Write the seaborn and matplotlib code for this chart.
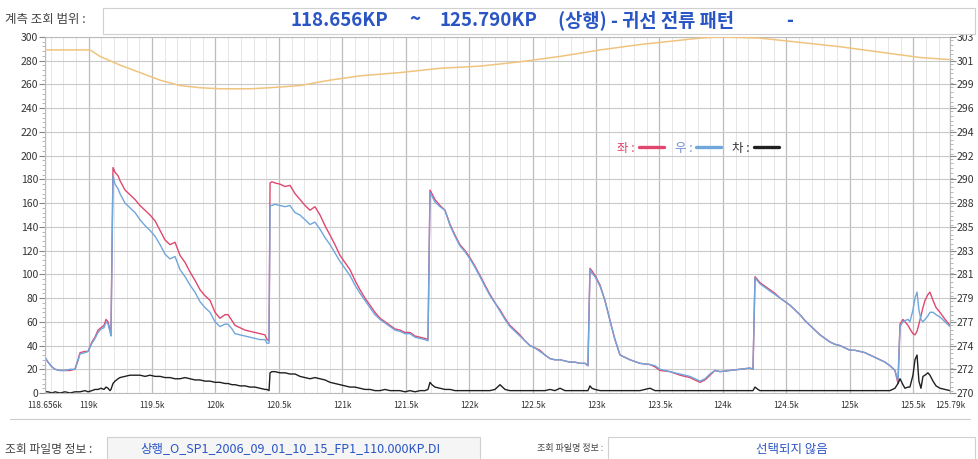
import numpy as np
import pandas as pd
import matplotlib
matplotlib.use("Agg")
import matplotlib.pyplot as plt
from matplotlib.lines import Line2D
from matplotlib.patches import Rectangle
from matplotlib.ticker import MultipleLocator, FixedLocator
import seaborn as sns

# ---------------- data ----------------
km = [118.656, 118.680, 118.711, 118.735, 118.774, 118.814, 118.853, 118.892, 118.916, 118.932,
      118.971, 118.995, 119.026, 119.050, 119.074, 119.098, 119.121, 119.137, 119.153, 119.168,
      119.176, 119.192, 119.208, 119.232, 119.247, 119.287, 119.326, 119.366, 119.405, 119.445,
      119.484, 119.524, 119.563, 119.602, 119.641, 119.681, 119.720, 119.760, 119.799, 119.838,
      119.878, 119.917, 119.957, 119.996, 120.035, 120.075, 120.099, 120.130, 120.154, 120.193,
      120.233, 120.272, 120.311, 120.351, 120.390, 120.406, 120.422, 120.430, 120.445, 120.469,
      120.508, 120.548, 120.587, 120.627, 120.666, 120.706, 120.745, 120.784, 120.824, 120.863,
      120.903, 120.942, 120.981, 121.021, 121.060, 121.099, 121.139, 121.178, 121.218, 121.257,
      121.297, 121.336, 121.376, 121.415, 121.454, 121.494, 121.533, 121.573, 121.612, 121.651,
      121.675, 121.691, 121.706, 121.730, 121.770, 121.809, 121.849, 121.888, 121.927, 121.967,
      122.006, 122.045, 122.085, 122.124, 122.164, 122.203, 122.243, 122.282, 122.321, 122.361,
      122.400, 122.439, 122.479, 122.518, 122.558, 122.597, 122.637, 122.676, 122.716, 122.755,
      122.794, 122.834, 122.873, 122.913, 122.936, 122.952, 122.967, 122.992, 123.031, 123.070,
      123.110, 123.149, 123.189, 123.228, 123.267, 123.346, 123.425, 123.465, 123.504, 123.583,
      123.662, 123.740, 123.780, 123.819, 123.859, 123.898, 123.937, 123.977, 124.056, 124.134,
      124.213, 124.237, 124.253, 124.276, 124.292, 124.331, 124.371, 124.410, 124.450, 124.489,
      124.529, 124.568, 124.607, 124.647, 124.686, 124.725, 124.765, 124.804, 124.844, 124.883,
      124.923, 124.962, 125.002, 125.041, 125.080, 125.120, 125.159, 125.199, 125.238, 125.278,
      125.317, 125.356, 125.380, 125.396, 125.419, 125.435, 125.459, 125.474, 125.498, 125.514,
      125.530, 125.545, 125.561, 125.577, 125.593, 125.616, 125.632, 125.656, 125.680, 125.711,
      125.751, 125.790]

left_rail = [30, 26, 22, 20, 19, 19, 19, 20, 28, 34,
             35, 35, 43, 47, 53, 55, 57, 62, 60, 53,
             49, 190, 186, 183, 179, 171, 167, 163, 158, 154,
             150, 145, 137, 129, 125, 127, 116, 110, 102, 95,
             87, 82, 78, 68, 63, 66, 66, 61, 57, 55,
             53, 52, 51, 50, 49, 45, 44, 177, 178, 177,
             176, 174, 175, 168, 163, 158, 154, 157, 150, 141,
             133, 125, 116, 110, 104, 95, 87, 80, 74, 68,
             63, 60, 57, 54, 53, 51, 51, 48, 47, 46,
             45, 171, 168, 163, 158, 154, 142, 133, 125, 120,
             114, 107, 99, 91, 83, 76, 70, 63, 57, 53,
             49, 44, 40, 38, 36, 32, 29, 28, 28, 27,
             26, 26, 25, 25, 23, 105, 103, 99, 91, 78,
             61, 45, 32, 30, 28, 25, 24, 22, 19, 18,
             15, 13, 11, 9, 11, 15, 19, 18, 19, 20,
             21, 20, 98, 95, 93, 90, 87, 84, 80, 77,
             74, 70, 66, 61, 57, 53, 49, 46, 43, 41,
             40, 38, 36, 36, 35, 34, 32, 30, 28, 26,
             23, 19, 8, 58, 62, 60, 57, 54, 50, 49,
             52, 58, 65, 72, 78, 83, 85, 78, 72, 68,
             62, 57]

right_rail = [30, 26, 22, 20, 19, 19, 20, 20, 27, 33,
              34, 35, 42, 46, 51, 54, 55, 60, 58, 52,
              48, 183, 176, 172, 168, 160, 156, 152, 146, 141,
              137, 132, 125, 117, 113, 115, 104, 98, 91, 85,
              77, 72, 68, 60, 56, 58, 58, 54, 50, 49,
              48, 47, 46, 45, 45, 42, 42, 158, 158, 159,
              158, 157, 158, 152, 150, 146, 142, 144, 138, 131,
              125, 118, 111, 105, 99, 91, 84, 78, 72, 66,
              62, 59, 56, 53, 52, 50, 50, 47, 46, 45,
              44, 169, 166, 161, 157, 154, 141, 132, 124, 119,
              113, 106, 98, 90, 82, 76, 69, 62, 56, 52,
              48, 44, 40, 38, 35, 32, 29, 28, 28, 27,
              26, 26, 25, 25, 23, 104, 101, 98, 90, 78,
              61, 45, 32, 30, 28, 25, 24, 23, 20, 18,
              16, 14, 12, 10, 12, 16, 19, 18, 19, 20,
              21, 20, 97, 94, 92, 89, 86, 83, 80, 77,
              74, 70, 66, 61, 57, 53, 49, 46, 43, 41,
              40, 38, 36, 36, 35, 34, 32, 30, 28, 26,
              23, 19, 10, 56, 60, 61, 62, 60, 70, 80,
              85, 70, 62, 60, 62, 65, 68, 68, 66, 64,
              60, 56]

difference = [1, 1, 0, 1, 0, 1, 0, 1, 1, 1,
              2, 1, 2, 3, 3, 4, 3, 5, 4, 2,
              3, 8, 10, 12, 13, 14, 15, 15, 15, 14,
              15, 14, 14, 13, 13, 12, 12, 13, 12, 11,
              11, 10, 10, 9, 9, 8, 8, 7, 7, 6,
              6, 5, 5, 4, 3, 3, 2, 17, 18, 18,
              17, 17, 16, 16, 14, 13, 12, 13, 12, 11,
              9, 8, 7, 6, 5, 5, 4, 3, 3, 2,
              2, 3, 2, 2, 2, 1, 2, 1, 2, 2,
              3, 9, 7, 5, 4, 3, 3, 2, 2, 2,
              2, 2, 2, 2, 2, 3, 7, 3, 2, 2,
              2, 2, 2, 2, 2, 2, 3, 2, 4, 2,
              2, 2, 2, 2, 2, 6, 4, 3, 2, 2,
              2, 2, 2, 2, 2, 2, 4, 2, 2, 2,
              2, 2, 2, 2, 2, 2, 2, 2, 2, 2,
              2, 2, 5, 3, 2, 2, 2, 2, 2, 2,
              2, 2, 2, 2, 2, 2, 2, 2, 2, 2,
              2, 2, 2, 2, 2, 2, 2, 2, 2, 2,
              2, 4, 8, 12, 7, 4, 5, 5, 15, 28,
              32, 10, 4, 14, 15, 17, 15, 10, 6, 4,
              3, 2]

profile_km = [118.656, 119.011, 119.090, 119.247, 119.405, 119.563, 119.720, 119.878, 120.035,
              120.272, 120.430, 120.666, 120.903, 121.139, 121.454, 121.770, 122.085, 122.400,
              122.716, 123.031, 123.346, 123.662, 123.819, 123.977, 124.292, 124.607, 124.923,
              125.238, 125.553, 125.790]
profile_val = [301.8, 301.8, 301.2, 300.4, 299.7, 299.0, 298.5, 298.3, 298.2,
               298.2, 298.3, 298.5, 299.0, 299.4, 299.7, 300.1, 300.3, 300.7,
               301.2, 301.8, 302.3, 302.7, 302.9, 303.0, 302.9, 302.5, 302.1,
               301.6, 301.1, 300.9]

series_names = ["좌", "우", "차"]
series_colors = ["#e0476f", "#6fa6dc", "#202020"]

xtick_pos = [118.656, 119.0, 119.5, 120.0, 120.5, 121.0, 121.5, 122.0, 122.5,
             123.0, 123.5, 124.0, 124.5, 125.0, 125.5, 125.790]
xtick_labels = ["118.656k", "119k", "119.5k", "120k", "120.5k", "121k", "121.5k", "122k",
                "122.5k", "123k", "123.5k", "124k", "124.5k", "125k", "125.5k", "125.79k"]
left_ticks = list(range(0, 301, 20))
right_min, right_max = 270.0, 303.0

header_label = "계측 조회 범위 :"
title_parts = ["118.656KP", "~", "125.790KP", "(상행) - 귀선 전류 패턴", "-"]
file_label_left = "조회 파일명 정보 :"
file_name_left = "상행_O_SP1_2006_09_01_10_15_FP1_110.000KP.DI"
file_label_right = "조회 파일명 정보 :"
file_name_right = "선택되지 않음"

# ---------------- style ----------------
sns.set_style("white")
plt.rcParams["font.family"] = ["Noto Sans CJK KR", "DejaVu Sans"]
plt.rcParams["axes.unicode_minus"] = False

df = pd.concat([
    pd.DataFrame({"km": km, "val": vals, "series": name})
    for name, vals in zip(series_names, [left_rail, right_rail, difference])
], ignore_index=True)

W, H = 979, 459
fig = plt.figure(figsize=(W / 100, H / 100), dpi=100)
fig.patch.set_facecolor("white")

ax = fig.add_axes([45 / W, (H - 393) / H, (950 - 45) / W, (393 - 37) / H])

sns.lineplot(data=df, x="km", y="val", hue="series", hue_order=series_names,
             palette=dict(zip(series_names, series_colors)), linewidth=1.0,
             estimator=None, sort=False, legend=False, ax=ax)

ax.set_xlim(km[0], km[-1])
ax.set_ylim(0, 300)
ax.set_xlabel("")
ax.set_ylabel("")

ax.xaxis.set_major_locator(FixedLocator(xtick_pos))
ax.set_xticklabels(xtick_labels)
ax.xaxis.set_minor_locator(MultipleLocator(0.1))
ax.set_yticks(left_ticks)
ax.yaxis.set_minor_locator(MultipleLocator(4))

ax.grid(which="major", axis="x", color="#bdbdbd", linewidth=0.9)
ax.grid(which="minor", axis="x", color="#e6e6e6", linewidth=0.7)
ax.grid(which="major", axis="y", color="#c9c9c9", linewidth=0.8)
ax.set_axisbelow(True)

ax.tick_params(axis="x", which="major", labelsize=6, length=3, color="#888888",
               labelcolor="#333333", pad=3)
ax.tick_params(axis="x", which="minor", length=2, color="#aaaaaa")
ax.tick_params(axis="y", which="major", labelsize=7.5, length=4, color="#888888",
               labelcolor="#333333", pad=1)
ax.tick_params(axis="y", which="minor", length=2, color="#aaaaaa")
for s in ax.spines.values():
    s.set_color("#bbbbbb")
    s.set_linewidth(0.8)

ax2 = ax.twinx()
sns.lineplot(x=profile_km, y=profile_val, color="#f0c47e", linewidth=1.1, ax=ax2)
ax2.set_ylim(right_min, right_max)
ax2.set_yticks(np.linspace(right_min, right_max, 16))
ax2.set_yticklabels([f"{v:.0f}" for v in np.linspace(right_min, right_max, 16)])
ax2.yaxis.set_minor_locator(MultipleLocator((right_max - right_min) / 75))
ax2.tick_params(axis="y", which="major", labelsize=7.5, length=4, color="#888888",
                labelcolor="#333333", pad=1)
ax2.tick_params(axis="y", which="minor", length=2, color="#aaaaaa")
ax2.grid(False)
for s in ax2.spines.values():
    s.set_visible(False)

handles = [Line2D([], [], color=c, linewidth=2.4) for c in series_colors]
leg = ax.legend(handles, [f"{n} :" for n in series_names], ncol=3, markerfirst=False,
                frameon=False, loc="center left",
                bbox_to_anchor=((606 - 45) / 905, (393 - 148) / 356),
                fontsize=9, handlelength=2.0, handletextpad=0.3, columnspacing=0.9)
for t, c in zip(leg.get_texts(), ["#e0476f", "#6f8fd0", "#333333"]):
    t.set_color(c)

# ---------------- header & footer ----------------
fig.text(5 / W, 1 - 19 / H, header_label, fontsize=9, color="#444444", va="center", ha="left")
fig.patches.append(Rectangle((103 / W, 1 - 34 / H), (975 - 103) / W, 26 / H,
                             transform=fig.transFigure, facecolor="white",
                             edgecolor="#d0d0d0", linewidth=0.8))
title_x = [290, 415, 440, 558, 790]
title_ha = ["left", "center", "left", "left", "center"]
for txt, xp, ha in zip(title_parts, title_x, title_ha):
    fig.text(xp / W, 1 - 20 / H, txt, fontsize=13.5, fontweight="bold",
             color="#2a55c4", va="center", ha=ha)

fig.add_artist(Line2D([10 / W, 970 / W], [1 - 419 / H, 1 - 419 / H],
                      transform=fig.transFigure, color="#cccccc", linewidth=0.8))

fig.text(5 / W, 1 - 449 / H, file_label_left, fontsize=8.5, color="#444444", va="center")
fig.patches.append(Rectangle((107 / W, 1 - 460 / H), (480 - 107) / W, 23 / H,
                             transform=fig.transFigure, facecolor="#f5f5f5",
                             edgecolor="#d0d0d0", linewidth=0.8))
fig.text(290 / W, 1 - 449 / H, file_name_left, fontsize=9, color="#2a55c4",
         va="center", ha="center")

fig.text(537 / W, 1 - 449 / H, file_label_right, fontsize=6.5, color="#444444", va="center")
fig.patches.append(Rectangle((608 / W, 1 - 460 / H), (975 - 608) / W, 23 / H,
                             transform=fig.transFigure, facecolor="white",
                             edgecolor="#d0d0d0", linewidth=0.8))
fig.text(792 / W, 1 - 449 / H, file_name_right, fontsize=9, color="#2a55c4",
         va="center", ha="center")

fig.savefig("out.png", dpi=100)
